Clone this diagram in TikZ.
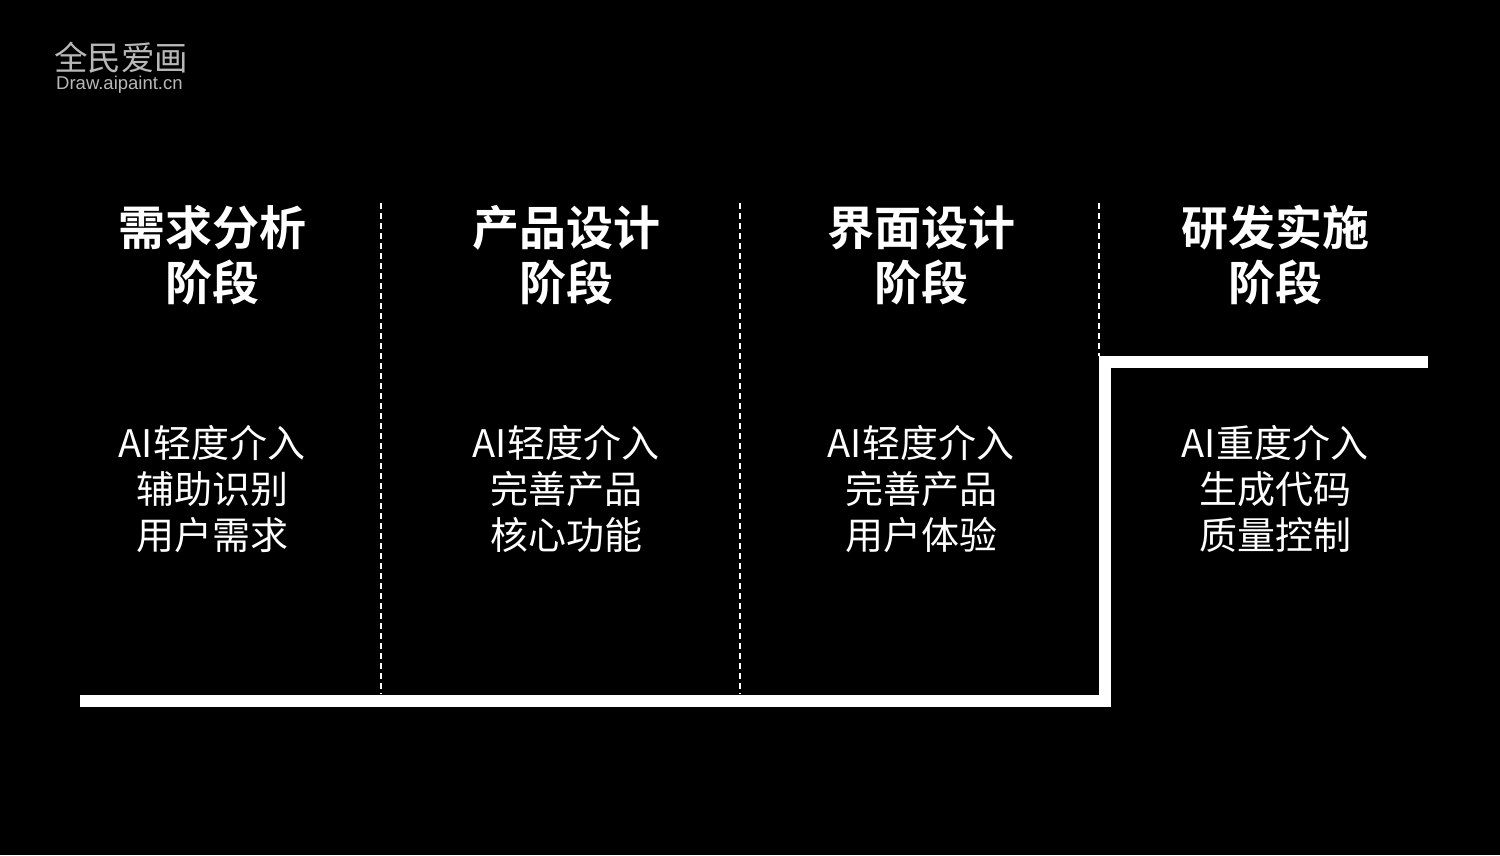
\documentclass[tikz,border=0pt]{standalone}
\usepackage{fontspec}
\newfontfamily\cjk{Noto Sans CJK SC}
\newfontfamily\cjkbold{Noto Sans CJK SC Bold}
\newfontfamily\wmlatin{Liberation Sans}
\begin{document}
\begin{tikzpicture}[x=1pt,y=-1pt,
  title/.style={text=white,align=center,font=\cjkbold\fontsize{47}{55}\selectfont,inner sep=0pt},
  body/.style={text=white,align=center,font=\cjk\fontsize{38}{46}\selectfont,inner sep=0pt},
  sep/.style={draw=white,line width=2pt,dash pattern=on 6pt off 4pt},
  stepline/.style={draw=white,line width=12.5pt,line join=miter}]
\useasboundingbox[fill=black] (0,0) rectangle (1500,855);
% watermark
\node[text=white!72!black,font=\cjk\fontsize{33.5}{34}\selectfont,inner sep=0pt,anchor=west] (wm1) at (54,58) {全民爱画};
\node[text=white!72!black,font=\wmlatin\fontsize{18.5}{19}\selectfont,inner sep=0pt,anchor=west] (wm2) at (56,85) {Draw.aipaint.cn};
% titles
\node[title] (t1) at (212,255) {需求分析\\阶段};
\node[title] (t2) at (566,255) {产品设计\\阶段};
\node[title] (t3) at (921,255) {界面设计\\阶段};
\node[title] (t4) at (1275,255) {研发实施\\阶段};
% bodies
\node[body] (b1) at (212,489) {AI轻度介入\\辅助识别\\用户需求};
\node[body] (b2) at (566,489) {AI轻度介入\\完善产品\\核心功能};
\node[body] (b3) at (921,489) {AI轻度介入\\完善产品\\用户体验};
\node[body] (b4) at (1275,489) {AI重度介入\\生成代码\\质量控制};
% separators
\coordinate (s1a) at (381,203); \coordinate (s1b) at (381,694);
\coordinate (s2a) at (740,203); \coordinate (s2b) at (740,694);
\coordinate (s3a) at (1099,203); \coordinate (s3b) at (1099,356);
\draw[sep] (s1a) -- (s1b);
\draw[sep] (s2a) -- (s2b);
\draw[sep] (s3a) -- (s3b);
% step line
\coordinate (p0) at (80,701);
\coordinate (p1) at (1105,701);
\coordinate (p2) at (1105,362);
\coordinate (p3) at (1428,362);
\draw[stepline] (p0) -- (p1) -- (p2) -- (p3);
\end{tikzpicture}
\end{document}
